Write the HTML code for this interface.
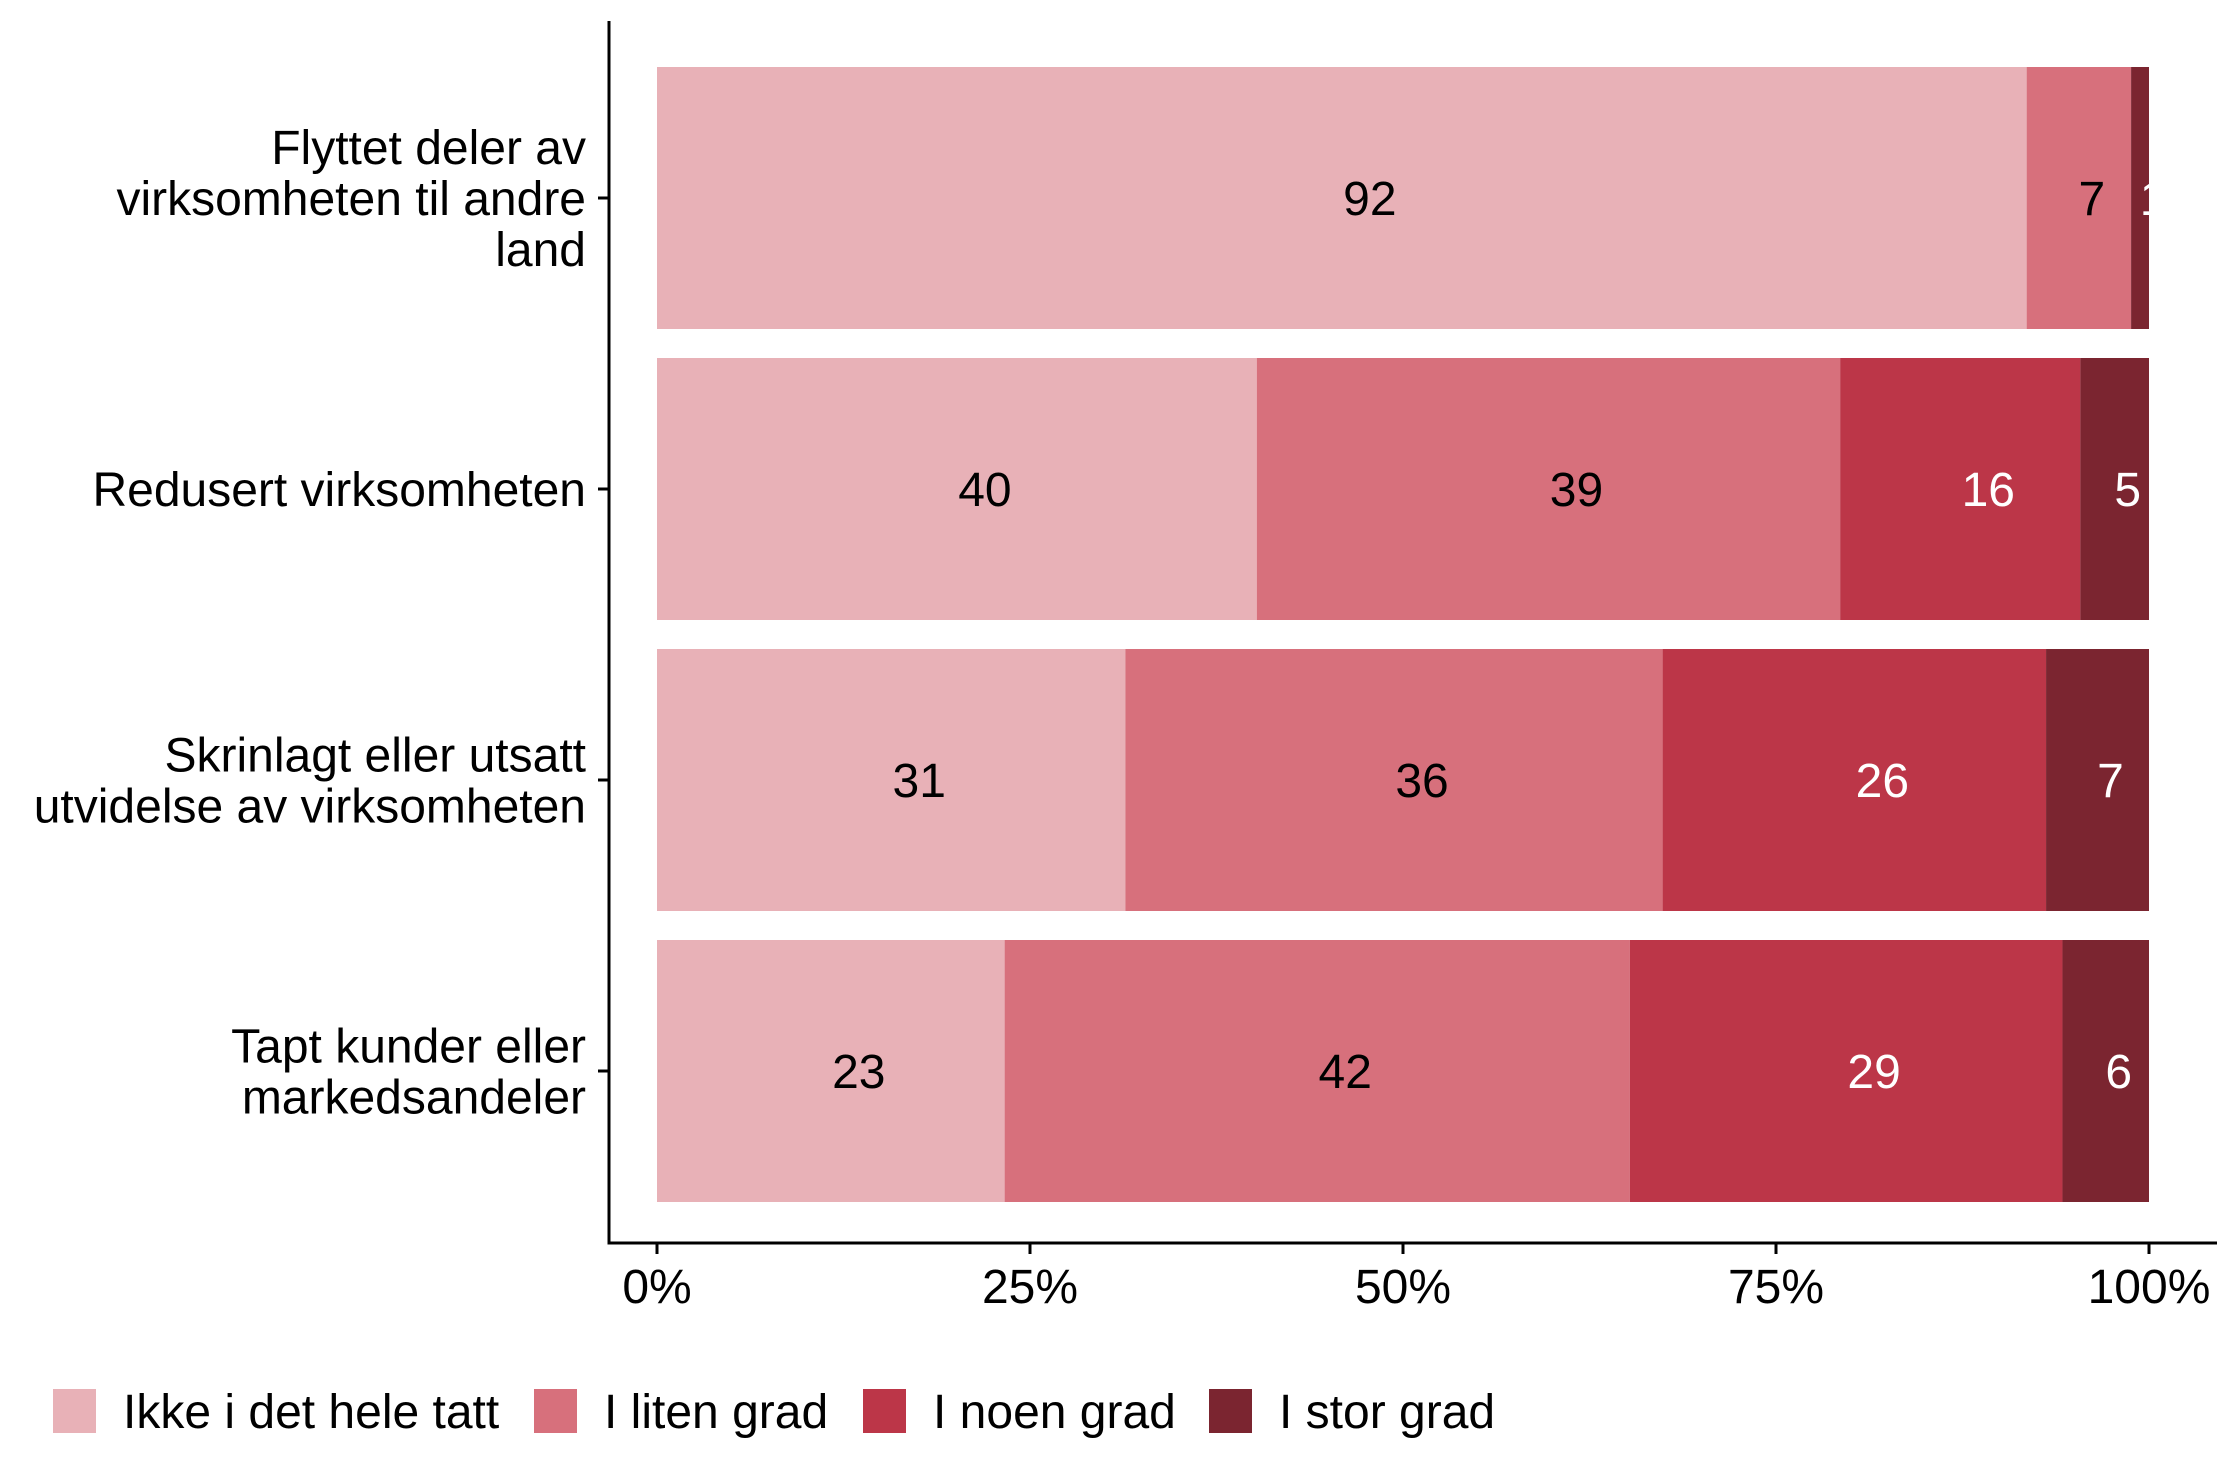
<!DOCTYPE html>
<html><head><meta charset="utf-8">
<style>
html,body{margin:0;padding:0;background:#fff;}
svg{display:block;font-family:"Liberation Sans",Arial,sans-serif;}
</style></head>
<body>
<svg id="chart" width="2240" height="1484" viewBox="0 0 2240 1484" xmlns="http://www.w3.org/2000/svg"></svg>
<script>
const categories = [
  ["Flyttet deler av","virksomheten til andre","land"],
  ["Redusert virksomheten"],
  ["Skrinlagt eller utsatt","utvidelse av virksomheten"],
  ["Tapt kunder eller","markedsandeler"]
];
const seriesNames = ["Ikke i det hele tatt","I liten grad","I noen grad","I stor grad"];
const ikke = [91.8,40.2,31.4,23.3];
const liten = [7.0,39.1,36.0,41.9];
const noen = [0,16.1,25.7,29.0];
const stor = [1.2,4.6,6.9,5.8];
const tickValues = [0,25,50,75,100];
const tickLabels = ["0%","25%","50%","75%","100%"];

const colors = ["#E8B1B7","#D7707C","#BC3648","#7B2530"];
const textColors = ["#000","#000","#fff","#fff"];
const svg = document.getElementById('chart');
const NS = "http://www.w3.org/2000/svg";
const x0 = 657, x1 = 2149;
const xs = v => x0 + (x1 - x0) * v / 100;
const bandTop = 67, bandStep = 291, barH = 262;
const yc = i => bandTop + i * bandStep + barH / 2;
const FS = 48;

function mk(tag, attrs){const e=document.createElementNS(NS,tag);for(const k in attrs)e.setAttribute(k,attrs[k]);svg.appendChild(e);return e;}

const series = [ikke, liten, noen, stor];
categories.forEach((cat, i) => {
  let acc = 0;
  series.forEach((s, j) => {
    const v = s[i];
    if (v <= 0) return;
    const r = mk('rect',{x:xs(acc),y:yc(i)-barH/2,width:xs(acc+v)-xs(acc),height:barH,fill:colors[j]});
    
    
    const lbl = String(Math.round(v));
    const off = lbl.length === 1 ? 13 : 28;
    const t = mk('text',{x:(xs(acc)+xs(acc+v))/2+off,y:yc(i)+17,'text-anchor':'middle','font-size':FS,fill:textColors[j]});
    t.textContent = lbl;
    
    
    acc += v;
  });
  const lh = 51;
  const startY = yc(i) - (cat.length-1)*lh/2 + 17;
  cat.forEach((ln, k) => {
    const t = mk('text',{x:586,y:startY+k*lh,'text-anchor':'end','font-size':FS,fill:'#000'});
    t.textContent = ln;
    
    
  });
  const tk = mk('line',{x1:598,x2:609,y1:yc(i),y2:yc(i),stroke:'#000','stroke-width':3});
  
  
});

const ya = mk('line',{x1:609,x2:609,y1:21,y2:1244,stroke:'#000','stroke-width':3});


const xa = mk('line',{x1:607.5,x2:2217,y1:1243,y2:1243,stroke:'#000','stroke-width':3});


tickValues.forEach((v, i) => {
  const l = mk('line',{x1:xs(v),x2:xs(v),y1:1243,y2:1254,stroke:'#000','stroke-width':3});
  
  
  const t = mk('text',{x:xs(v),y:1303,'text-anchor':'middle','font-size':FS,fill:'#000'});
  t.textContent = tickLabels[i];
  
  
});

const legX = [53,534,863,1209];
seriesNames.forEach((n, j) => {
  const r = mk('rect',{x:legX[j],y:1389,width:43,height:44,fill:colors[j]});
  
  
  const t = mk('text',{x:legX[j]+70,y:1428,'font-size':FS,fill:'#000'});
  t.textContent = n;
  
  
});
</script>
</body></html>
